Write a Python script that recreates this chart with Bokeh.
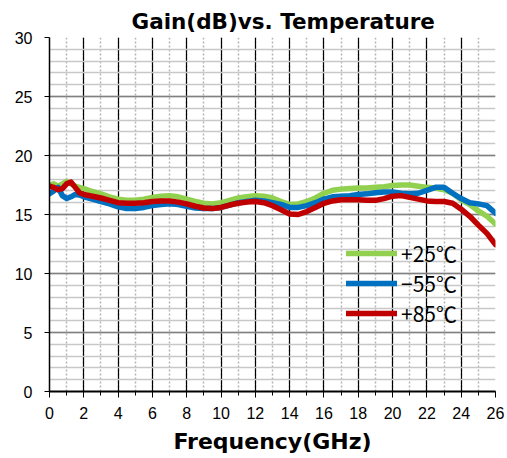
from bokeh.plotting import figure
from bokeh.models import SingleIntervalTicker, Legend, LegendItem
from bokeh.embed import file_html
from bokeh.resources import INLINE

# ---- data ----
freq = [0, 0.25, 0.5, 0.75, 1.0, 1.25, 1.5, 1.75, 2, 2.5, 3, 3.5, 4, 4.5, 5, 5.5,
        6, 6.5, 7, 7.5, 8, 8.5, 9, 9.5, 10, 10.5, 11, 11.5, 12, 12.5, 13, 13.5,
        14, 14.5, 15, 15.5, 16, 16.5, 17, 17.5, 18, 18.5, 19, 19.5, 20, 20.5,
        21, 21.5, 22, 22.5, 23, 23.5, 24, 24.5, 25, 25.5, 26]

gain_p25 = [17.5, 17.6, 17.4, 17.6, 17.8, 17.6, 17.4, 17.3, 17.2, 16.95, 16.75, 16.5,
            16.3, 16.2, 16.2, 16.3, 16.45, 16.55, 16.6, 16.5, 16.3, 16.1, 15.95, 15.9,
            16.0, 16.2, 16.4, 16.5, 16.6, 16.55, 16.4, 16.1, 15.85, 15.9, 16.1, 16.4,
            16.8, 17.05, 17.15, 17.2, 17.25, 17.25, 17.3, 17.35, 17.45, 17.5, 17.5,
            17.4, 17.3, 17.25, 17.1, 16.8, 16.25, 15.85, 15.3, 14.85, 14.2]

gain_m55 = [16.75, 17.0, 17.3, 16.6, 16.35, 16.5, 16.7, 16.65, 16.5, 16.3, 16.1, 15.9,
            15.65, 15.5, 15.5, 15.6, 15.75, 15.85, 15.9, 15.85, 15.7, 15.55, 15.5, 15.5,
            15.6, 15.8, 16.0, 16.1, 16.2, 16.15, 16.0, 15.85, 15.6, 15.6, 15.75, 16.0,
            16.3, 16.5, 16.55, 16.6, 16.7, 16.75, 16.85, 16.9, 16.9, 16.8, 16.75,
            16.8, 17.05, 17.3, 17.3, 16.8, 16.35, 16.0, 15.9, 15.75, 15.1]

gain_p85 = [17.4, 17.3, 17.1, 17.2, 17.6, 17.75, 17.3, 16.85, 16.7, 16.55, 16.4, 16.2,
            16.0, 15.95, 15.95, 16.0, 16.1, 16.15, 16.15, 16.05, 15.9, 15.7, 15.55, 15.5,
            15.6, 15.8, 15.95, 16.05, 16.1, 16.0, 15.75, 15.4, 15.05, 15.0, 15.25, 15.6,
            15.95, 16.15, 16.25, 16.25, 16.25, 16.2, 16.2, 16.35, 16.55, 16.6, 16.45,
            16.3, 16.15, 16.1, 16.1, 15.95, 15.45, 14.85, 14.1, 13.4, 12.45]

series_labels = ["+25℃", "−55℃", "+85℃"]
title_text = "Gain(dB)vs. Temperature"
x_label = "Frequency(GHz)"

# ---- figure ----
p = figure(width=507, height=458, x_range=(0, 26), y_range=(0, 30),
           output_backend="svg", toolbar_location=None,
           min_border_left=49, min_border_right=12, min_border_top=37,
           min_border_bottom=67)
p.background_fill_color = "white"
p.border_fill_color = "white"
p.outline_line_color = None

p.title.text = title_text
p.title.text_font = "'DejaVu Sans'"
p.title.text_font_style = "bold"
p.title.text_font_size = "21.5px"
p.title.text_color = "black"
p.title.align = "left"
p.title.offset = 82
p.title.standoff = 7

xticker = SingleIntervalTicker(interval=2, num_minor_ticks=2)
yticker = SingleIntervalTicker(interval=5, num_minor_ticks=5)
p.xaxis.ticker = xticker
p.yaxis.ticker = yticker
p.xgrid.ticker = xticker
p.ygrid.ticker = yticker

p.xgrid.grid_line_color = "black"
p.xgrid.grid_line_width = 1.2
p.xgrid.minor_grid_line_color = "#b4b4b4"
p.xgrid.minor_grid_line_width = 1.5
p.xgrid.minor_grid_line_dash = "2 2"

p.ygrid.grid_line_color = "#808080"
p.ygrid.grid_line_width = 1.5
p.ygrid.minor_grid_line_color = "#c8c8c8"
p.ygrid.minor_grid_line_width = 1.3

for ax in (p.xaxis, p.yaxis):
    ax.axis_line_color = "black"
    ax.major_tick_line_color = "black"
    ax.minor_tick_line_color = "black"
    ax.major_tick_in = 0
    ax.minor_tick_in = 0
    ax.major_label_text_font = "Arial"
    ax.major_label_text_font_size = "16px"
    ax.major_label_text_color = "black"

p.xaxis.axis_line_width = 2
p.xaxis.major_tick_out = 6
p.xaxis.minor_tick_out = 4
p.xaxis.major_label_standoff = 9
p.xaxis.axis_label = x_label
p.xaxis.axis_label_text_font = "'DejaVu Sans'"
p.xaxis.axis_label_text_font_style = "bold"
p.xaxis.axis_label_text_font_size = "22px"
p.xaxis.axis_label_text_color = "black"
p.xaxis.axis_label_standoff = 7

p.yaxis.axis_line_width = 1.5
p.yaxis.major_tick_out = 5
p.yaxis.minor_tick_out = 0
p.yaxis.major_label_standoff = 12

colors = ["#92d050", "#0070c0", "#c00000"]
renderers = []
for g, c in zip([gain_p25, gain_m55, gain_p85], colors):
    r = p.line(freq, g, line_color=c, line_width=5.5,
               line_join="round", line_cap="round")
    renderers.append(r)

legend = Legend(items=[LegendItem(label=lab, renderers=[r])
                       for lab, r in zip(series_labels, renderers)],
                location=(297, 63), padding=0, spacing=0, margin=0,
                glyph_width=51, glyph_height=20, label_height=20,
                label_standoff=4,
                label_text_font="'Noto Sans CJK JP'",
                label_text_font_size="21px",
                label_text_color="black",
                background_fill_alpha=0, border_line_alpha=0)
p.add_layout(legend)

open("out.html", "w").write(file_html(p, INLINE))
